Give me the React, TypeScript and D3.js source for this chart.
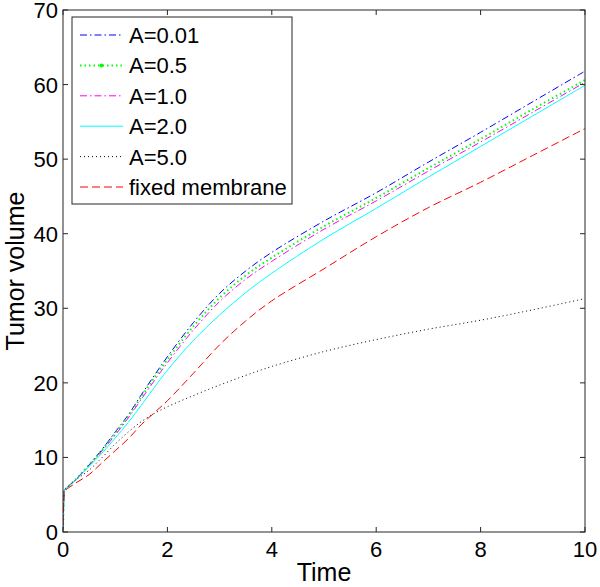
import React from "react";
import * as d3 from "d3";

const times = [0, 0.02, 0.25, 0.5, 0.75, 1, 1.25, 1.5, 1.75, 2, 2.5, 3, 3.5, 4, 5, 6, 7, 8, 9, 10];
const seriesA001 = [0.3, 5.6, 7.1, 9.0, 11.1, 13.4, 15.7, 18.4, 21.0, 23.5, 28.1, 32.0, 35.0, 37.5, 41.7, 45.5, 49.6, 53.6, 57.7, 61.8];
const seriesA05 = [0.4, 5.6, 7.1, 9.0, 11.0, 13.2, 15.5, 18.1, 20.7, 23.1, 27.6, 31.4, 34.4, 36.8, 41.0, 44.8, 48.8, 52.7, 56.7, 60.6];
const seriesA10 = [0.5, 5.6, 7.1, 8.9, 10.9, 13.0, 15.3, 17.8, 20.3, 22.7, 27.1, 30.9, 33.9, 36.3, 40.6, 44.4, 48.4, 52.3, 56.3, 60.3];
const seriesA20 = [0.2, 5.6, 7.0, 8.8, 10.6, 12.6, 14.7, 17.0, 19.4, 21.7, 25.7, 29.1, 32.1, 34.7, 39.3, 43.4, 47.6, 51.7, 55.8, 59.9];
const seriesA50 = [0.5, 5.6, 7.0, 8.3, 10.0, 11.8, 13.4, 14.8, 15.9, 16.8, 18.3, 19.7, 21.0, 22.2, 24.2, 25.8, 27.2, 28.4, 29.8, 31.3];
const seriesFixed = [1.0, 5.5, 6.6, 7.7, 9.3, 10.9, 12.5, 14.4, 16.0, 17.6, 21.3, 25.1, 28.3, 31.0, 35.3, 39.6, 43.5, 46.9, 50.5, 54.1];

const legendLabels = ["A=0.01", "A=0.5", "A=1.0", "A=2.0", "A=5.0", "fixed membrane"];
const xTicks = [0, 2, 4, 6, 8, 10];
const yTicks = [0, 10, 20, 30, 40, 50, 60, 70];

const styles = [
  { color: "#0000ff", dash: "7,3,1.5,3", width: 1 },
  { color: "#00ff00", dash: "1.5,3", width: 2 },
  { color: "#ff00ff", dash: "7,3,1.5,3", width: 1 },
  { color: "#00ffff", dash: "none", width: 1 },
  { color: "#000000", dash: "1,3", width: 1 },
  { color: "#ff0000", dash: "8,4", width: 1 },
];

const allSeries = [seriesA001, seriesA05, seriesA10, seriesA20, seriesA50, seriesFixed];

export default function App() {
  const W = 600, H = 587;
  const left = 63, right = 585, top = 10, bottom = 532;
  const x = d3.scaleLinear().domain([0, 10]).range([left, right]);
  const y = d3.scaleLinear().domain([0, 70]).range([bottom, top]);
  const smooth = d3
    .line<[number, number]>()
    .x((d) => x(d[0]))
    .y((d) => y(d[1]))
    .curve(d3.curveCatmullRom.alpha(0.5));
  const straight = d3
    .line<[number, number]>()
    .x((d) => x(d[0]))
    .y((d) => y(d[1]));
  const pathFor = (s: number[]) => {
    const pts: [number, number][] = s.map((v, i) => [times[i], v]);
    return (straight(pts.slice(0, 2)) || "") + (smooth(pts.slice(1)) || "").replace(/^M/, "L");
  };
  const font = "'Liberation Sans', Arial, Helvetica, sans-serif";
  const axisColor = "#262626";
  const tl = 5;

  const legX = 72, legY = 17, legW = 220, legH = 187;
  const rowY = (i: number) => 35 + i * 30.4;

  return (
    <svg width={W} height={H} style={{ position: "absolute", left: 0, top: 0, background: "#fff" }} fontFamily={font}>
      <rect x={0} y={0} width={W} height={H} fill="#fff" />
      <defs>
        <clipPath id="plotclip">
          <rect x={left} y={top} width={right - left} height={bottom - top} />
        </clipPath>
      </defs>
      <g clipPath="url(#plotclip)">
        {allSeries.map((s, i) => (
          <path
            key={i}
            d={pathFor(s)}
            fill="none"
            stroke={styles[i].color}
            strokeWidth={styles[i].width}
            strokeDasharray={styles[i].dash}
          />
        ))}
      </g>
      <rect x={left} y={top} width={right - left} height={bottom - top} fill="none" stroke={axisColor} strokeWidth={1} />
      {xTicks.map((t) => (
        <g key={"x" + t}>
          <line x1={x(t)} x2={x(t)} y1={bottom} y2={bottom - tl} stroke={axisColor} />
          <line x1={x(t)} x2={x(t)} y1={top} y2={top + tl} stroke={axisColor} />
          <text x={x(t)} y={bottom + 25} fontSize={22} textAnchor="middle" fill="#000">
            {t}
          </text>
        </g>
      ))}
      {yTicks.map((t) => (
        <g key={"y" + t}>
          <line x1={left} x2={left + tl} y1={y(t)} y2={y(t)} stroke={axisColor} />
          <line x1={right} x2={right - tl} y1={y(t)} y2={y(t)} stroke={axisColor} />
          <text x={left - 5} y={y(t) + 8} fontSize={22} textAnchor="end" fill="#000">
            {t}
          </text>
        </g>
      ))}
      <text x={(left + right) / 2} y={581} fontSize={25} textAnchor="middle" fill="#000">
        Time
      </text>
      <text
        transform={`translate(24, ${(top + bottom) / 2}) rotate(-90)`}
        fontSize={25}
        textAnchor="middle"
        fill="#000"
      >
        Tumor volume
      </text>
      <rect x={legX} y={legY} width={legW} height={legH} fill="#fff" stroke={axisColor} strokeWidth={1} />
      {legendLabels.map((lab, i) => (
        <g key={lab}>
          <line
            x1={80}
            x2={123}
            y1={rowY(i)}
            y2={rowY(i)}
            stroke={styles[i].color}
            strokeWidth={styles[i].width}
            strokeDasharray={styles[i].dash}
          />
          {i === 1 && <circle cx={101.5} cy={rowY(i)} r={2} fill={styles[i].color} />}
          <text x={129} y={rowY(i) + 8} fontSize={22} fill="#000">
            {lab}
          </text>
        </g>
      ))}
    </svg>
  );
}
